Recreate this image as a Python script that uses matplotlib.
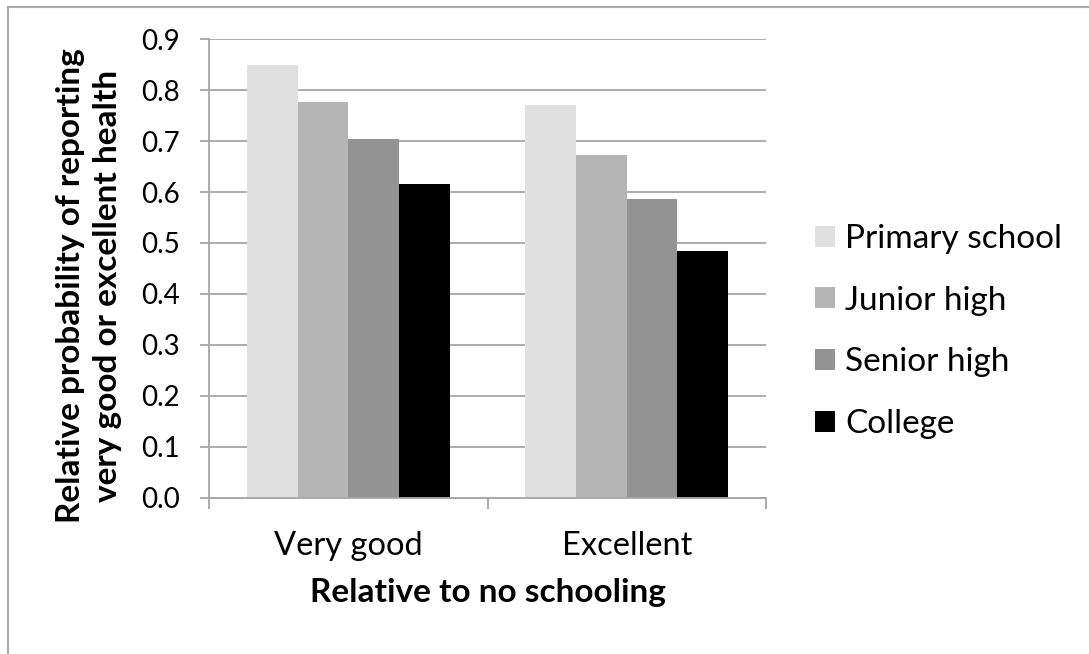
import matplotlib
matplotlib.use("Agg")
import matplotlib.pyplot as plt
import numpy as np
from matplotlib.lines import Line2D

# relative probability of reporting very good / excellent health, by schooling level
categories = ["Very good", "Excellent"]
levels = ["Primary school", "Junior high", "Senior high", "College"]
primary = [0.850, 0.771]
junior = [0.776, 0.673]
senior = [0.705, 0.586]
college = [0.615, 0.484]
yticks = [0.0, 0.1, 0.2, 0.3, 0.4, 0.5, 0.6, 0.7, 0.8, 0.9]

colors = ["#e0e0e0", "#b5b5b5", "#939393", "#000000"]
grey = "#a6a6a6"

plt.rcParams["font.family"] = ["Lato", "DejaVu Sans"]

W, H = 1089, 654
fig = plt.figure(figsize=(W / 100, H / 100), dpi=100)
ax = fig.add_axes([209 / W, 1 - 497.5 / H, (766 - 209) / W, (497.5 - 39.3) / H])

x = np.arange(len(categories))
bw = 1 / 5.5  # 150% gap between groups
for i, (vals, lab, col) in enumerate(zip([primary, junior, senior, college], levels, colors)):
    ax.bar(x + (i - 1.5) * bw, vals, bw, color=col, label=lab, linewidth=0, zorder=2)

ax.set_xlim(-0.5, 1.5)
ax.set_ylim(0, 0.9)
ax.set_axisbelow(True)
ax.yaxis.grid(True, color=grey, linewidth=1.3)

for s in ("top", "right"):
    ax.spines[s].set_visible(False)
for s in ("left", "bottom"):
    ax.spines[s].set_color(grey)
    ax.spines[s].set_linewidth(1.3)

ax.set_yticks(yticks)
ax.set_yticklabels([f"{v:.1f}" for v in yticks])
ax.tick_params(axis="y", length=6.5, width=1.3, color=grey, pad=14.4, labelsize=20)

ax.set_xticks(x)
ax.set_xticklabels(categories)
ax.set_xticks([-0.5, 0.5, 1.5], minor=True)
ax.tick_params(axis="x", which="major", length=0, pad=24, labelsize=23.5)
ax.tick_params(axis="x", which="minor", length=8, width=1.3, color=grey)

fig.text(487.5 / W, 1 - 602 / H, "Relative to no schooling", ha="center", va="baseline",
         fontsize=24, fontweight="bold")
fig.text(89 / W, 1 - 286 / H, "Relative probability of reporting\nvery good or excellent health",
         rotation=90, ha="center", va="center", multialignment="center",
         fontsize=24, fontweight="bold", linespacing=1.32)

fs = 24
leg = ax.legend(loc="upper left", bbox_to_anchor=(815 / W, 1 - 224 / H),
                bbox_transform=fig.transFigure, frameon=False, fontsize=fs,
                handlelength=0.6, handleheight=0.6, handletextpad=0.3,
                labelspacing=0.95, borderpad=0, borderaxespad=0)

# chart area frame
fx, fy = 7.7 / W, 1 - 6.7 / H
fig.add_artist(Line2D([fx, fx], [0, fy], transform=fig.transFigure, color="#a9a9a9", lw=1.5))
fig.add_artist(Line2D([fx, 1], [fy, fy], transform=fig.transFigure, color="#a9a9a9", lw=1.5))

fig.savefig("out.png", dpi=100)
